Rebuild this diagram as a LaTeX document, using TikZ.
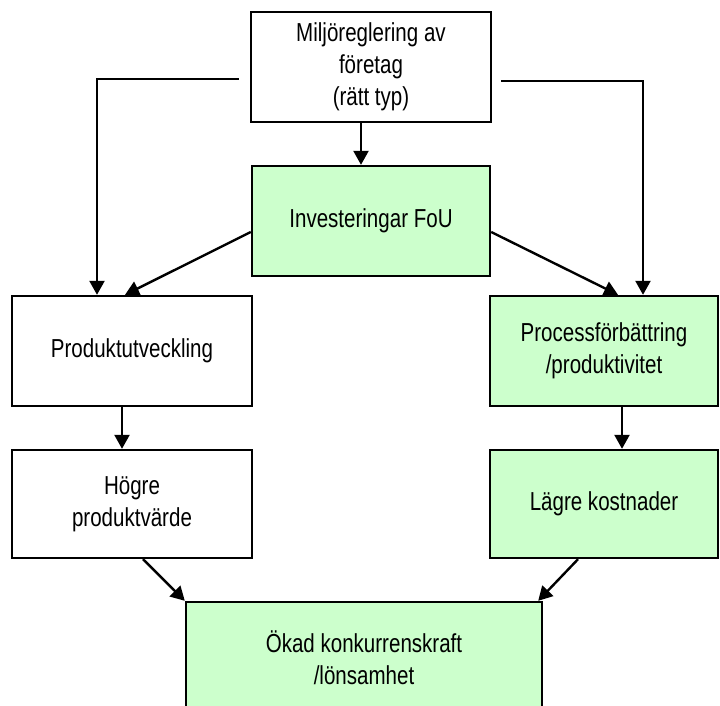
\documentclass[tikz,border=0pt]{standalone}
\usepackage{fontspec}
\setmainfont{Liberation Sans}[FakeStretch=0.79]
\usepackage{tikz}
\usetikzlibrary{arrows.meta}

\definecolor{boxgreen}{RGB}{204,255,204}

\tikzset{
  stepbox/.style={draw, line width=2.4pt, align=center, inner sep=0pt,
    minimum height=110pt, font=\fontsize{26}{32}\selectfont},
  greenbox/.style={stepbox, fill=boxgreen},
  flow/.style={line width=2.4pt, -{Triangle[length=14pt,width=15pt]}}
}

\begin{document}
\begin{tikzpicture}[x=1pt,y=-1pt]
    \useasboundingbox (0,0) rectangle (720,706);
    % boxes
    \node[stepbox, minimum width=240pt] (miljo) at (371,67) {Miljöreglering av\\företag\\(rätt typ)};
    \node[greenbox, minimum width=238pt] (fou) at (371,221) {Investeringar FoU};
    \node[stepbox, minimum width=240pt] (produkt) at (132,351) {Produktutveckling};
    \node[greenbox, minimum width=228pt] (process) at (604,351) {Processförbättring\\/produktivitet};
    \node[stepbox, minimum width=240pt, minimum height=108pt] (varde) at (132,504) {Högre\\produktvärde};
    \node[greenbox, minimum width=228pt, minimum height=108pt] (kostnad) at (604,504) {Lägre kostnader};
    \node[greenbox, minimum width=356pt, minimum height=112pt] (konkurrens) at (364,658) {Ökad konkurrenskraft\\/lönsamhet};
    %
    % connectors
    \draw[flow] ([xshift=-10pt]miljo.south) -- ([xshift=-10pt]fou.north);
    \draw[flow, shorten <=11pt] ([yshift=-12pt]miljo.west) -| ([xshift=-35pt]produkt.north);
    \draw[flow, shorten <=9pt] ([yshift=-14pt]miljo.east) -| ([xshift=39pt]process.north);
    \draw[flow] ([yshift=-11pt]fou.west) -- ([xshift=-7pt]produkt.north);
    \draw[flow] ([yshift=-11pt]fou.east) -- ([xshift=14pt]process.north);
    \draw[flow] ([xshift=-10pt]produkt.south) -- ([xshift=-10pt]varde.north);
    \draw[flow] ([xshift=18pt]process.south) -- ([xshift=18pt]kostnad.north);
    \draw[flow] ([xshift=11pt]varde.south) -- (konkurrens.north west);
    \draw[flow] ([xshift=-26pt]kostnad.south) -- ([xshift=-5pt]konkurrens.north east);
\end{tikzpicture}
\end{document}
